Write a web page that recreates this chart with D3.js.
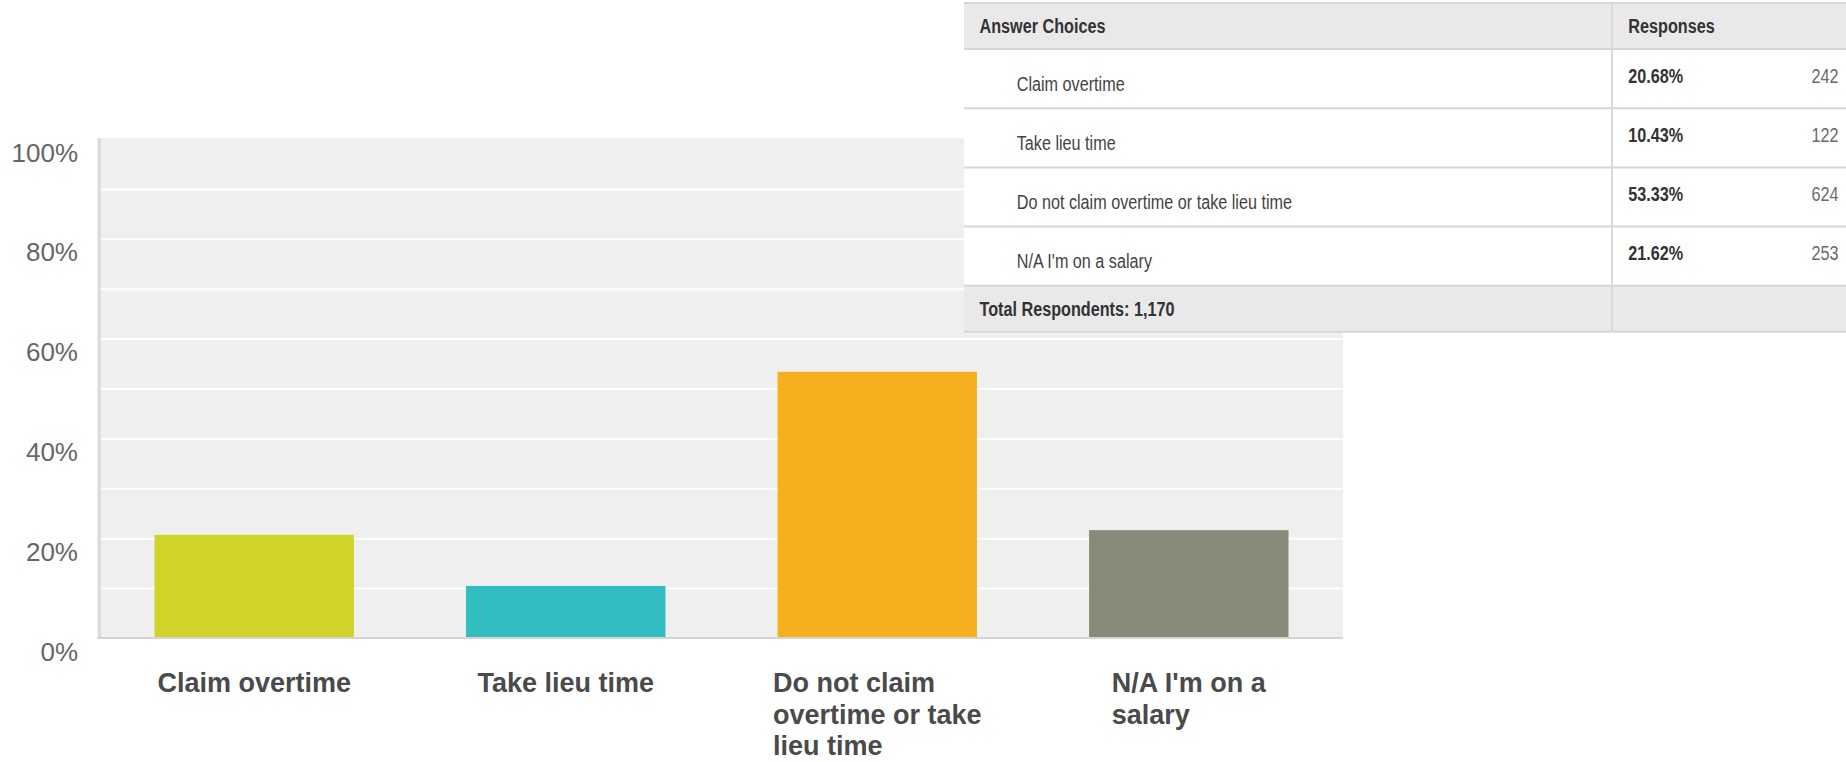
<!DOCTYPE html>
<html>
<head>
<meta charset="utf-8">
<script src="https://cdn.jsdelivr.net/npm/d3@7"></script>
<style>
  html, body { margin: 0; padding: 0; background: #ffffff; }
  svg { display: block; font-family: "Liberation Sans", Arial, sans-serif; }
</style>
</head>
<body>
<script>
// ---------- data ----------
const categories = ["Claim overtime", "Take lieu time", "Do not claim overtime or take lieu time", "N/A I'm on a salary"];
const percents = [20.68, 10.43, 53.33, 21.62];
const counts = [242, 122, 624, 253];
const barColors = ["#d0d428", "#32bec1", "#f6af1e", "#8a8a7a"];
const yTicks = [0, 20, 40, 60, 80, 100];
const gridTicks = [10, 20, 30, 40, 50, 60, 70, 80, 90];
const tableHeaders = ["Answer Choices", "Responses"];
const totalLabel = "Total Respondents: 1,170";

// ---------- layout ----------
const W = 1846, H = 762;
const plotL = 100, plotR = 1343, plotT = 138, plotB = 638;

const svg = d3.select("body").append("svg").attr("width", W).attr("height", H);

const x = d3.scaleBand().domain(categories).range([plotL, plotR]).paddingInner(0.36).paddingOuter(0.175);
const y = d3.scaleLinear().domain([0, 100]).range([plotB, 139]);

// plot background
svg.append("rect").attr("x", plotL).attr("y", plotT).attr("width", plotR - plotL).attr("height", plotB - plotT).attr("fill", "#efefef");

// grid lines
const grid = svg.append("g").attr("transform", `translate(${plotL},0)`)
  .call(d3.axisLeft(y).tickValues(gridTicks).tickSize(-(plotR - plotL)).tickFormat(""));
grid.select(".domain").remove();
grid.selectAll("line").attr("stroke", "#ffffff").attr("stroke-width", 2);

// bars
svg.append("g").selectAll("rect").data(categories).join("rect")
  .attr("x", d => x(d))
  .attr("y", (d, i) => y(percents[i]))
  .attr("width", x.bandwidth())
  .attr("height", (d, i) => y(0) - y(percents[i]))
  .attr("fill", (d, i) => barColors[i]);

// axis lines
svg.append("rect").attr("x", 97.5).attr("y", plotT).attr("width", 3.5).attr("height", plotB - plotT + 1).attr("fill", "#dcdcdc");
svg.append("rect").attr("x", 97.5).attr("y", y(0) - 1).attr("width", plotR - 97.5).attr("height", 2).attr("fill", "#d4d4d4");

// y tick labels
const yAxis = svg.append("g").attr("transform", `translate(${plotL},0)`)
  .call(d3.axisLeft(y).tickValues(yTicks).tickSize(0).tickPadding(22).tickFormat(d => d + "%"));
yAxis.select(".domain").remove();
yAxis.selectAll("text")
  .attr("dy", null).attr("y", 22)
  .attr("font-family", "Liberation Sans, Arial, sans-serif")
  .attr("font-size", 26).attr("fill", "#666666");

// category labels (wrapped, block centered, lines left aligned)
const maxW = 230, lineH = 31.5;
const measure = svg.append("text").attr("font-size", 27).attr("font-weight", "bold").attr("visibility", "hidden");
function textW(s) { measure.text(s); return measure.node().getComputedTextLength(); }
const catG = svg.append("g");
categories.forEach(c => {
  const words = c.split(" ");
  const lines = [];
  let cur = "";
  words.forEach(w => {
    const t = cur ? cur + " " + w : w;
    if (cur && textW(t) > maxW) { lines.push(cur); cur = w; } else { cur = t; }
  });
  if (cur) lines.push(cur);
  const bw = d3.max(lines, textW);
  const cx = x(c) + x.bandwidth() / 2;
  const t = catG.append("text").attr("font-size", 27).attr("font-weight", "bold").attr("fill", "#4a4a4a");
  lines.forEach((ln, i) => {
    t.append("tspan").attr("x", cx - bw / 2).attr("y", 692 + i * lineH).text(ln);
  });
});
measure.remove();

// ---------- table overlay ----------
const tL = 964, tR = W, colX = 1612;
const headTop = 3, headBot = 49, rowH = 59.2;
const rowTops = categories.map((d, i) => headBot + i * rowH);
const footTop = headBot + categories.length * rowH, footBot = footTop + 46;
const tg = svg.append("g");
tg.append("rect").attr("x", tL).attr("y", 0).attr("width", tR - tL).attr("height", footBot + 1).attr("fill", "#ffffff");
tg.append("rect").attr("x", tL).attr("y", headTop).attr("width", tR - tL).attr("height", headBot - headTop).attr("fill", "#e9e9e9");
tg.append("rect").attr("x", tL).attr("y", footTop).attr("width", tR - tL).attr("height", footBot - footTop).attr("fill", "#e9e9e9");
// horizontal borders
const hLines = [headTop, headBot].concat(rowTops.slice(1), [footTop, footBot]);
tg.selectAll("line.h").data(hLines).join("line").attr("class", "h")
  .attr("x1", tL).attr("x2", tR).attr("y1", d => d).attr("y2", d => d)
  .attr("stroke", "#d6d6d6").attr("stroke-width", 2);
tg.append("line").attr("x1", colX).attr("x2", colX).attr("y1", headTop).attr("y2", footBot)
  .attr("stroke", "#d9d9d9").attr("stroke-width", 2);

function ctext(g, px, py, str, opts) {
  const t = g.append("g").attr("transform", `translate(${px},${py}) scale(0.81,1)`)
    .append("text").attr("font-size", 20).attr("fill", opts.fill || "#333")
    .attr("font-weight", opts.bold ? "bold" : "normal")
    .attr("text-anchor", opts.anchor || "start").text(str);
  return t;
}
ctext(tg, 979.5, 32.5, tableHeaders[0], { bold: true, fill: "#333333" });
ctext(tg, 1628.3, 32.5, tableHeaders[1], { bold: true, fill: "#333333" });
categories.forEach((c, i) => {
  const top = rowTops[i];
  ctext(tg, 1016.7, top + 41.5, c, { fill: "#444444" });
  ctext(tg, 1628.3, top + 33.7, percents[i].toFixed(2) + "%", { bold: true, fill: "#333333" });
  ctext(tg, 1838.5, top + 33.7, String(counts[i]), { fill: "#6a6a6a", anchor: "end" });
});
ctext(tg, 979.5, footTop + 30, totalLabel, { bold: true, fill: "#333333" });
</script>
</body>
</html>
